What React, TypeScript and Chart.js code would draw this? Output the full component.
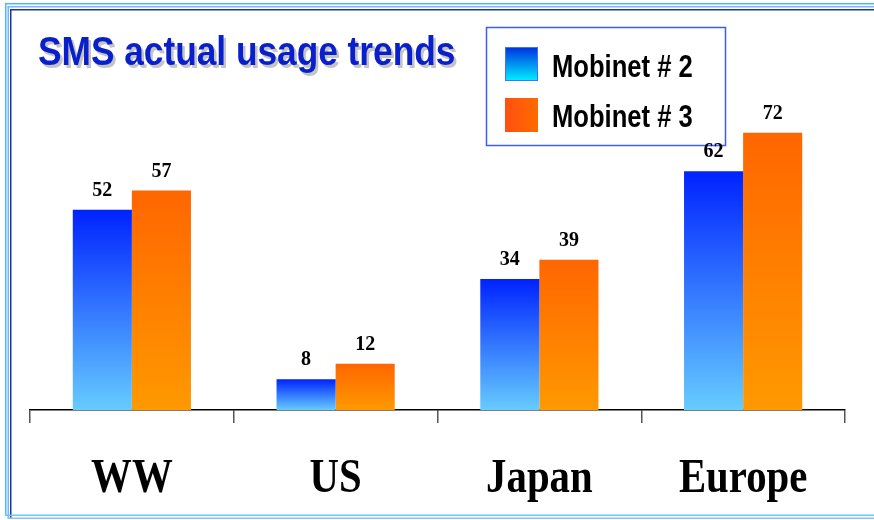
import React, { useEffect, useRef } from "react";
import { Chart, registerables } from "chart.js";

Chart.register(...registerables);

const chartTitle = "SMS actual usage trends";
const categories = ["WW", "US", "Japan", "Europe"];
const seriesNames = ["Mobinet # 2", "Mobinet # 3"];
const mobinet2 = [52, 8, 34, 62];
const mobinet3 = [57, 12, 39, 72];
const yMin = 0;
const yMax = 100;

function barGradient(ctx: any, top: string, bottom: string) {
  const chart = ctx.chart;
  const { chartArea, scales } = chart;
  if (!chartArea || !scales || !scales.y) return top;
  const v = ctx.raw as number;
  const yTop = scales.y.getPixelForValue(v);
  const yBot = scales.y.getPixelForValue(0);
  if (!isFinite(yTop) || !isFinite(yBot) || yTop === yBot) return top;
  const g = chart.ctx.createLinearGradient(0, yTop, 0, yBot);
  g.addColorStop(0, top);
  g.addColorStop(1, bottom);
  return g;
}

const decorPlugin = {
  id: "decor",
  beforeDraw(chart: any) {
    const ctx = chart.ctx as CanvasRenderingContext2D;
    ctx.save();
    ctx.fillStyle = "#ffffff";
    ctx.fillRect(0, 0, chart.width, chart.height);
    // frame
    ctx.fillStyle = "#40c0ff";
    ctx.fillRect(5, 3, 869, 1.5);
    ctx.fillRect(5, 3, 1.5, 513);
    ctx.fillStyle = "#80b0ff";
    ctx.fillRect(7.5, 6, 867, 1.5);
    ctx.fillRect(7.5, 6, 1.5, 512);
    ctx.fillStyle = "#1a3a90";
    ctx.fillRect(10, 9, 864, 1.5);
    ctx.fillRect(10, 9, 1.5, 510);
    ctx.fillStyle = "#66c8ff";
    ctx.fillRect(5, 514.5, 869, 1.5);
    ctx.fillStyle = "#8cc0ff";
    ctx.fillRect(7.5, 517.5, 867, 1.5);

    // title
    ctx.font = "bold 41px 'Liberation Sans', Arial, sans-serif";
    ctx.textAlign = "left";
    ctx.textBaseline = "alphabetic";
    ctx.save();
    ctx.translate(40.5, 67.5);
    ctx.scale(0.86, 1);
    ctx.fillStyle = "#c4c4c4";
    ctx.fillText(chartTitle, 0, 0);
    ctx.restore();
    ctx.save();
    ctx.translate(38, 65);
    ctx.scale(0.86, 1);
    ctx.fillStyle = "#0a1fcc";
    ctx.fillText(chartTitle, 0, 0);
    ctx.restore();
    ctx.restore();
  },
  afterDatasetsDraw(chart: any) {
    const ctx = chart.ctx as CanvasRenderingContext2D;
    ctx.save();
    // legend box
    ctx.fillStyle = "#ffffff";
    ctx.fillRect(486, 27, 240, 119);
    ctx.strokeStyle = "#3a5cff";
    ctx.lineWidth = 1.5;
    ctx.strokeRect(486.5, 27.5, 239, 118);
    // swatches
    const g1 = ctx.createLinearGradient(0, 47, 0, 81);
    g1.addColorStop(0, "#0030e0");
    g1.addColorStop(1, "#00f0ff");
    ctx.fillStyle = g1;
    ctx.fillRect(505, 47, 33, 34);
    ctx.strokeStyle = "#4070ff";
    ctx.lineWidth = 1;
    ctx.strokeRect(505.5, 47.5, 32, 33);
    const g2 = ctx.createLinearGradient(505, 0, 538, 0);
    g2.addColorStop(0, "#ff5010");
    g2.addColorStop(1, "#ff6a00");
    ctx.fillStyle = g2;
    ctx.fillRect(505, 98, 33, 34);
    ctx.font = "bold 32px 'Liberation Sans', Arial, sans-serif";
    ctx.fillStyle = "#000000";
    ctx.textAlign = "left";
    ctx.textBaseline = "alphabetic";
    const legendBaselines = [77, 127];
    seriesNames.forEach((name, i) => {
      ctx.save();
      ctx.translate(552, legendBaselines[i]);
      ctx.scale(0.8, 1);
      ctx.fillText(name, 0, 0);
      ctx.restore();
    });

    // data labels
    ctx.font = "bold 20px 'Liberation Serif', 'Times New Roman', serif";
    ctx.textAlign = "center";
    chart.data.datasets.forEach((ds: any, di: number) => {
      const meta = chart.getDatasetMeta(di);
      meta.data.forEach((el: any, i: number) => {
        ctx.fillText(String(ds.data[i]), el.x, el.y - 14);
      });
    });

    // category labels
    const xs = chart.scales.x;
    ctx.font = "bold 48px 'Liberation Serif', 'Times New Roman', serif";
    categories.forEach((c, i) => {
      const cx = xs.getPixelForValue(i);
      ctx.save();
      ctx.translate(cx, 492);
      ctx.scale(0.85, 1);
      ctx.fillText(c, 0, 0);
      ctx.restore();
    });
    ctx.restore();
  },
};

export default function App() {
  const ref = useRef<HTMLCanvasElement | null>(null);
  useEffect(() => {
    if (!ref.current) return;
    const chart = new Chart(ref.current, {
      type: "bar",
      data: {
        labels: categories,
        datasets: [
          {
            label: seriesNames[0],
            data: mobinet2,
            backgroundColor: (c: any) => barGradient(c, "#0022ff", "#66ccff"),
            borderWidth: 0,
            categoryPercentage: 0.58,
            barPercentage: 1.0,
          },
          {
            label: seriesNames[1],
            data: mobinet3,
            backgroundColor: (c: any) => barGradient(c, "#ff6600", "#ff9900"),
            borderWidth: 0,
            categoryPercentage: 0.58,
            barPercentage: 1.0,
          },
        ],
      },
      options: {
        responsive: false,
        animation: false,
        layout: { padding: { left: 30, right: 29, top: 25, bottom: 97 } },
        plugins: {
          legend: { display: false },
          title: { display: false },
          tooltip: { enabled: false },
        },
        scales: {
          x: {
            display: true,
            offset: true,
            grid: {
              display: true,
              offset: true,
              drawOnChartArea: false,
              drawTicks: true,
              tickLength: 13,
              color: "#555555",
              lineWidth: 1.5,
            },
            border: { display: true, color: "#000000", width: 1.5 },
            ticks: { display: false },
          } as any,
          y: {
            display: false,
            min: yMin,
            max: yMax,
          },
        },
      },
      plugins: [decorPlugin],
    });
    return () => chart.destroy();
  }, []);
  return (
    <div style={{ position: "fixed", left: 0, top: 0, width: 874, height: 520 }}>
      <canvas ref={ref} width={874} height={520} />
    </div>
  );
}
